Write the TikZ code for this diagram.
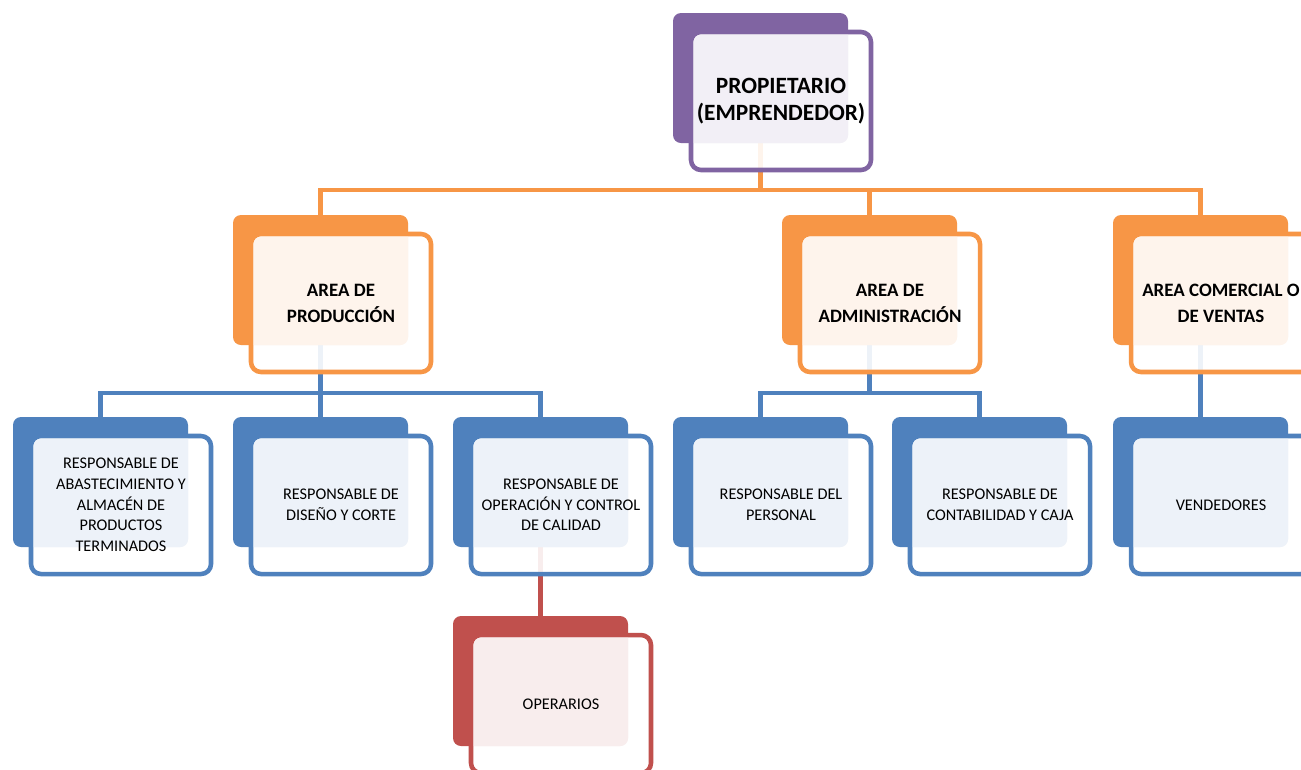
\documentclass[tikz,border=0pt]{standalone}
\usepackage{fontspec}
\setmainfont{Carlito}
\usetikzlibrary{backgrounds}
\definecolor{cpurple}{RGB}{128,100,162}
\definecolor{tpurple}{RGB}{242,239,246}
\definecolor{corange}{RGB}{247,150,70}
\definecolor{torange}{RGB}{254,244,236}
\definecolor{cblue}{RGB}{79,129,189}
\definecolor{tblue}{RGB}{237,242,249}
\definecolor{cred}{RGB}{192,80,77}
\definecolor{tred}{RGB}{248,237,237}
\tikzset{
  bigtxt/.style={font=\fontsize{17.5}{20.5}\selectfont\bfseries, align=center, inner sep=0pt},
  areatxt/.style={font=\fontsize{14.2}{19.5}\selectfont\bfseries, align=center, inner sep=0pt},
  smalltxt/.style={font=\fontsize{12.2}{15.5}\selectfont, align=center, inner sep=0pt},
  conn/.style={line width=3.4pt},
}
\newcommand{\obox}[7]{%
  \coordinate (#1-t) at ({#2+87.5},#3);
  \coordinate (#1-b) at ({#2+87.5},{#3+130});
  \fill[#4, rounded corners=6pt] (#2,#3) rectangle ++(175,130);
  \filldraw[draw=#4, line width=3.4pt, fill=white, fill opacity=0.9, rounded corners=7.5pt]
     ({#2+18},{#3+19}) rectangle ({#2+198},{#3+157});
  \begin{scope}
    \clip[rounded corners=6pt] ({#2+20.5},{#3+21.5}) rectangle ({#2+195.5},{#3+154.5});
    \fill[#5, rounded corners=6pt] (#2,#3) rectangle ++(175,130);
  \end{scope}
  \node[#6] (#1) at ({#2+108},{#3+88}) {#7};
}
\begin{document}
\begin{tikzpicture}[x=0.75pt, y=-0.75pt]
\clip (0,0) rectangle (1301,769);

\obox{prop}{673}{13}{cpurple}{tpurple}{bigtxt}{PROPIETARIO\\(EMPRENDEDOR)}
\obox{prod}{233}{215}{corange}{torange}{areatxt}{AREA DE\\PRODUCCIÓN}
\obox{admin}{782}{215}{corange}{torange}{areatxt}{AREA DE\\ADMINISTRACIÓN}
\obox{com}{1113}{215}{corange}{torange}{areatxt}{AREA COMERCIAL O\\DE VENTAS}
\obox{r1}{13}{417}{cblue}{tblue}{smalltxt}{RESPONSABLE DE\\ABASTECIMIENTO Y\\ALMACÉN DE\\PRODUCTOS\\TERMINADOS}
\obox{r2}{233}{417}{cblue}{tblue}{smalltxt}{RESPONSABLE DE\\DISEÑO Y CORTE}
\obox{r3}{453}{417}{cblue}{tblue}{smalltxt}{RESPONSABLE DE\\OPERACIÓN Y CONTROL\\DE CALIDAD}
\obox{r4}{673}{417}{cblue}{tblue}{smalltxt}{RESPONSABLE DEL\\PERSONAL}
\obox{r5}{892}{417}{cblue}{tblue}{smalltxt}{RESPONSABLE DE\\CONTABILIDAD Y CAJA}
\obox{vend}{1113}{417}{cblue}{tblue}{smalltxt}{VENDEDORES}
\obox{oper}{453}{616}{cred}{tred}{smalltxt}{OPERARIOS}

\begin{pgfonlayer}{background}
\fill[white] (0,0) rectangle (1301,769);
\draw[conn, corange] (prop-b) -- ++(0,47) -| (prod-t);
\draw[conn, corange] (prop-b) -- ++(0,47) -| (admin-t);
\draw[conn, corange] (prop-b) -- ++(0,47) -| (com-t);
\draw[conn, cblue] (prod-b) -- ++(0,48) -| (r1-t);
\draw[conn, cblue] (prod-b) -- ++(0,48) -| (r2-t);
\draw[conn, cblue] (prod-b) -- ++(0,48) -| (r3-t);
\draw[conn, cblue] (admin-b) -- ++(0,48) -| (r4-t);
\draw[conn, cblue] (admin-b) -- ++(0,48) -| (r5-t);
\draw[conn, cblue] (com-b) -- (vend-t);
\draw[conn, cred] (r3-b) -- (oper-t);
\end{pgfonlayer}
\end{tikzpicture}
\end{document}
